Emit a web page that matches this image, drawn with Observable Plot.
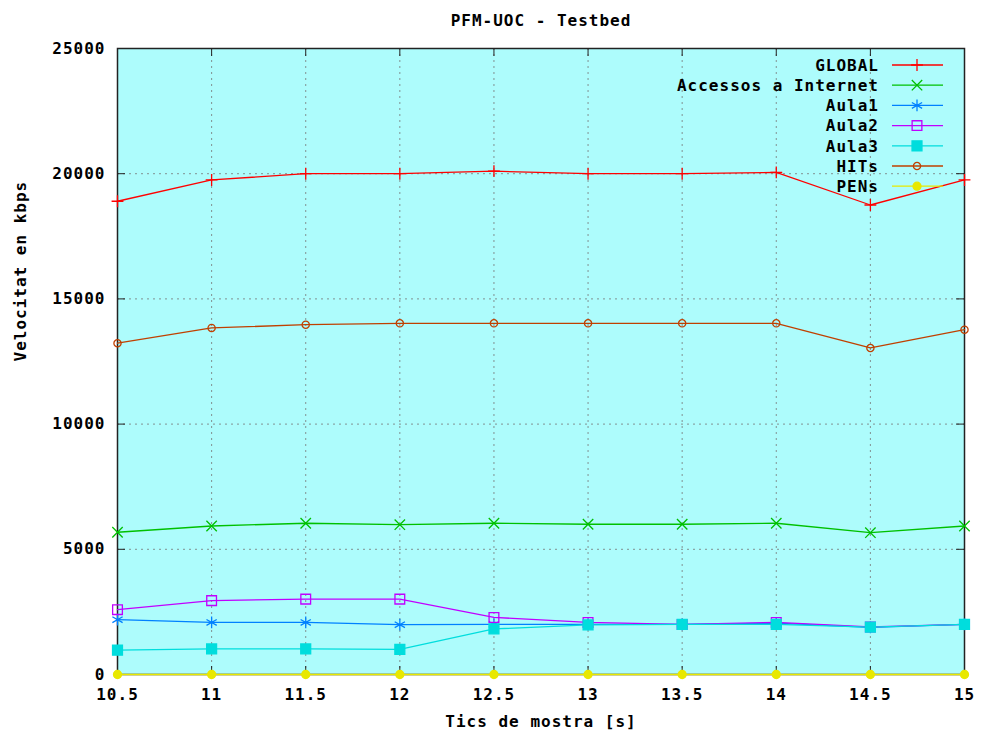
<!DOCTYPE html>
<html>
<head>
<meta charset="utf-8">
<script src="https://cdn.jsdelivr.net/npm/d3@7"></script>
<script src="https://cdn.jsdelivr.net/npm/@observablehq/plot@0.6"></script>
<style>
  html, body { margin: 0; padding: 0; background: #ffffff; }
  svg text { letter-spacing: 1px; }
</style>
</head>
<body>
<div id="chart"></div>
<script>
// ---- data ----
const xs = [10.5, 11, 11.5, 12, 12.5, 13, 13.5, 14, 14.5, 15];
const seriesNames = ["GLOBAL", "Accessos a Internet", "Aula1", "Aula2", "Aula3", "HITs", "PENs"];
const globalVals   = [18900, 19750, 20000, 20000, 20100, 20000, 20000, 20050, 18750, 19750];
const accessosVals = [5680, 5930, 6040, 5985, 6040, 6000, 6000, 6040, 5665, 5930];
const aula1Vals    = [2190, 2080, 2080, 1990, 2000, 2000, 2000, 2050, 1880, 2000];
const aula2Vals    = [2590, 2950, 3010, 3010, 2280, 2080, 2000, 2080, 1900, 2000];
const aula3Vals    = [970, 1020, 1020, 1000, 1820, 1980, 2000, 2000, 1890, 2000];
const hitsVals     = [13230, 13840, 13970, 14025, 14025, 14025, 14025, 14025, 13040, 13770];
const pensVals     = [0, 0, 0, 0, 0, 0, 0, 0, 0, 0];
const yTicks = [0, 5000, 10000, 15000, 20000, 25000];
const titleText = "PFM-UOC - Testbed";
const xLabel = "Tics de mostra [s]";
const yLabel = "Velocitat en kbps";

// ---- styles ----
const colors = ["#ff0000", "#00c000", "#0080ff", "#c000ff", "#00dddd", "#c04000", "#e8e800"];
const symbols = ["plus", "times", "asterisk", "square2", "square", "circle", "circle"];
const d3symbols = [d3.symbolPlus, d3.symbolTimes, d3.symbolAsterisk, d3.symbolSquare2, d3.symbolSquare, d3.symbolCircle, d3.symbolCircle];
const radii = [3.9, 4.8, 5.6, 6.2, 5.6, 3.6, 4];
const filled = [false, false, false, false, true, false, true];
const allVals = [globalVals, accessosVals, aula1Vals, aula2Vals, aula3Vals, hitsVals, pensVals];

const table = [];
seriesNames.forEach((name, i) => {
  xs.forEach((x, j) => table.push({series: name, idx: i, x, y: allVals[i][j]}));
});

const W = 984, H = 738;
const mL = 117, mR = 20, mT = 48, mB = 64;
const plotW = W - mL - mR, plotH = H - mT - mB;
const tickLen = 8;
const font = "DejaVu Sans Mono";

function legend(index, scales, values, dims) {
  const g = d3.create("svg:g")
    .attr("font-family", font).attr("font-weight", "bold").attr("font-size", 16);
  const right = dims.width - dims.marginRight;
  seriesNames.forEach((name, i) => {
    const y = dims.marginTop + 17 + i * 20.2;
    g.append("text")
      .attr("x", right - 85).attr("y", y)
      .attr("text-anchor", "end").attr("dy", "0.36em")
      .attr("fill", "#000").text(name);
    g.append("line")
      .attr("x1", right - 72).attr("x2", right - 21)
      .attr("y1", y).attr("y2", y)
      .attr("stroke", colors[i]).attr("stroke-width", 1.3);
    g.append("path")
      .attr("transform", `translate(${right - 47},${y})`)
      .attr("d", d3.symbol(d3symbols[i], Math.PI * radii[i] * radii[i])())
      .attr("fill", filled[i] ? colors[i] : "none")
      .attr("stroke", colors[i]).attr("stroke-width", 1.3);
  });
  return g.node();
}

const marks = [
  Plot.frame({fill: "#adfcfc"}),
  Plot.gridX(xs, {stroke: "#777", strokeOpacity: 0.8, strokeDasharray: "2,4"}),
  Plot.gridY(yTicks, {stroke: "#777", strokeOpacity: 0.8, strokeDasharray: "2,4"}),
  // inward tick marks
  Plot.ruleY(yTicks, {stroke: "#222", insetRight: plotW - tickLen}),
  Plot.ruleY(yTicks, {stroke: "#222", insetLeft: plotW - tickLen}),
  Plot.ruleX(xs, {stroke: "#222", insetTop: plotH - tickLen}),
  Plot.ruleX(xs, {stroke: "#222", insetBottom: plotH - tickLen}),
  Plot.frame({stroke: "#222", strokeWidth: 1.5}),
  Plot.axisX({ticks: xs, tickSize: 0, tickPadding: 14, tickFormat: d => String(d), label: null,
              fontSize: 16, fontWeight: "bold", fill: "#000"}),
  Plot.axisY({ticks: yTicks, tickSize: 0, tickPadding: 12, tickFormat: d => String(d), label: null,
              fontSize: 16, fontWeight: "bold", fill: "#000"}),
  Plot.text([titleText], {frameAnchor: "top", dy: -34, fontSize: 16, fontWeight: "bold", fill: "#000"}),
  Plot.text([xLabel], {frameAnchor: "bottom", dy: 52, fontSize: 16, fontWeight: "bold", fill: "#000"}),
  Plot.text([yLabel], {frameAnchor: "left", dx: -97, rotate: -90, fontSize: 16, fontWeight: "bold", fill: "#000"})
];

seriesNames.forEach((name, i) => {
  const data = table.filter(d => d.idx === i);
  marks.push(Plot.line(data, {x: "x", y: "y", stroke: colors[i], strokeWidth: 1.3}));
  marks.push(Plot.dot(data, {
    x: "x", y: "y", symbol: () => symbols[i], r: radii[i],
    fill: filled[i] ? colors[i] : "none",
    stroke: colors[i], strokeWidth: 1.3
  }));
});
marks.push(legend);

const chart = Plot.plot({
  width: W, height: H,
  marginLeft: mL, marginRight: mR, marginTop: mT, marginBottom: mB,
  style: {fontFamily: font, fontWeight: "bold", fontSize: "16px", background: "#ffffff", color: "#000"},
  x: {domain: [10.5, 15]},
  y: {domain: [0, 25000]},
  symbol: {type: "identity"},
  marks
});
document.getElementById("chart").appendChild(chart);
</script>
</body>
</html>
